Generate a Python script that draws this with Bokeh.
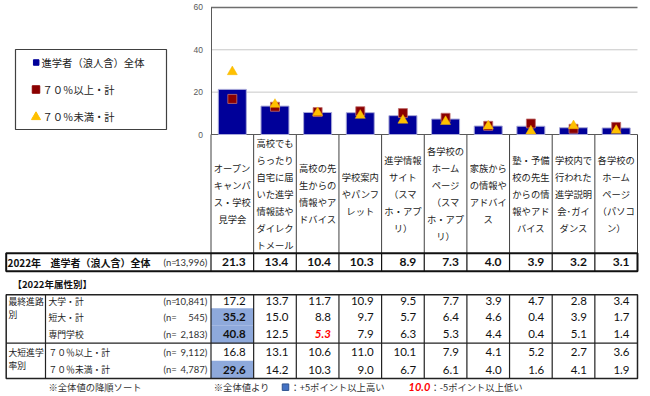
import numpy as np
from bokeh.plotting import figure
from bokeh.models import Range1d, LinearAxis, FixedTicker
from bokeh.core.properties import value
from bokeh.embed import file_html
from bokeh.resources import INLINE

# ---------------- data ----------------
categories = [
    "オープン\nキャンパ\nス・学校\n見学会",
    "高校でも\nらったり\n自宅に届\nいた進学\n情報誌や\nダイレク\nトメール",
    "高校の先\n生からの\n情報やア\nドバイス",
    "学校案内\nやパンフ\nレット",
    "進学情報\nサイト\n（スマ\nホ・アプ\nリ）",
    "各学校の\nホーム\nページ\n（スマ\nホ・アプ\nリ）",
    "家族から\nの情報や\nアドバイ\nス",
    "塾・予備\n校の先生\nからの情\n報やアド\nバイス",
    "学校内で\n行われた\n進学説明\n会･ガイ\nダンス",
    "各学校の\nホーム\nページ\n（パソコ\nン）",
]
overall = [21.3, 13.4, 10.4, 10.3, 8.9, 7.3, 4.0, 3.9, 3.2, 3.1]
univ = [17.2, 13.7, 11.7, 10.9, 9.5, 7.7, 3.9, 4.7, 2.8, 3.4]
junior = [35.2, 15.0, 8.8, 9.7, 5.7, 6.4, 4.6, 0.4, 3.9, 1.7]
vocational = [40.8, 12.5, 5.3, 7.9, 6.3, 5.3, 4.4, 0.4, 5.1, 1.4]
rate_hi = [16.8, 13.1, 10.6, 11.0, 10.1, 7.9, 4.1, 5.2, 2.7, 3.6]
rate_lo = [29.6, 14.2, 10.3, 9.0, 6.7, 6.1, 4.0, 1.6, 4.1, 1.9]

series_names = ["進学者（浪人含）全体", "７０％以上・計", "７０％未満・計"]
y_ticks = [0, 20, 40, 60]

main_year = "2022年"
main_label = "進学者（浪人含）全体"
main_n = "13,996"
section_title = "【2022年属性別】"
group_labels = ["最終進路\n別", "大短進学\n率別"]
group_sizes = [3, 2]
row_labels = ["大学・計", "短大・計", "専門学校", "７０％以上・計", "７０％未満・計"]
row_n = ["10,841", "545", "2,183", "9,112", "4,787"]
rows = [univ, junior, vocational, rate_hi, rate_lo]
note_sort = "※全体値の降順ソート"
note_base = "※全体値より"
note_high = "：+5ポイント以上高い"
note_low_sample = "10.0"
note_low = "：-5ポイント以上低い"
threshold = 5.0

# ---------------- layout (page pixels) ----------------
W, H = 650, 396
PX0, PY0 = 0, 0
COL_X0 = 210.5
COL_W = 42.65
ZERO_Y = 134.0
TOP_Y = 6.9
YMAX = y_ticks[-1]
JP = value("Noto Sans CJK JP")
NUM = value("Lato")

n = len(categories)
k = (ZERO_Y - TOP_Y) / YMAX
x_start = (PX0 - COL_X0) / COL_W
x_end = (PX0 + W - COL_X0) / COL_W
y_end = (ZERO_Y - PY0) / k
y_start = (ZERO_Y - (PY0 + H)) / k
RIGHT = COL_X0 + n * COL_W
LEFT = 5.7

p = figure(width=W, height=H, x_range=Range1d(x_start, x_end), y_range=Range1d(y_start, y_end),
           x_axis_type=None, y_axis_type=None, output_backend="svg", toolbar_location=None,
           min_border=0, outline_line_color=None, background_fill_color="white",
           border_fill_color="white")
p.extra_x_ranges = {"px": Range1d(PX0, PX0 + W)}
p.extra_y_ranges = {"px": Range1d(PY0 + H, PY0)}

xc = np.arange(n) + 0.5
bounds = np.arange(n + 1)

# gridlines
p.segment(x0=[0] * (len(y_ticks) - 2), x1=[n] * (len(y_ticks) - 2), y0=y_ticks[1:-1], y1=y_ticks[1:-1],
          line_color="#C8C8C8", line_width=1)
p.segment(x0=[0], x1=[n], y0=[y_ticks[-1]], y1=[y_ticks[-1]], line_color="#6E6E6E", line_width=1.5)

# y axis
yaxis = LinearAxis(fixed_location=0, bounds=(0, YMAX), ticker=FixedTicker(ticks=y_ticks),
                   axis_line_color="#595959", axis_line_width=1,
                   major_tick_in=0, major_tick_out=0, minor_tick_in=0, minor_tick_out=0,
                   major_label_text_font="Liberation Sans", major_label_text_font_size="8.5px",
                   major_label_text_color="#595959", major_label_standoff=8)
p.add_layout(yaxis, "left")

# category cell vertical lines & x axis line
p.segment(x0=bounds, x1=bounds, y0=[ZERO_Y] * (n + 1), y1=[252.7] * (n + 1), y_range_name="px",
          line_color="#404040", line_width=1)
p.segment(x0=[0], x1=[n], y0=[0], y1=[0], line_color="#595959", line_width=1)

# bars & markers
p.vbar(x=xc, top=overall, width=0.656, fill_color="#000099", line_color="#A8A8D8", line_width=1)
p.scatter(x=xc, y=rate_hi, marker="square", size=9, fill_color="#8B0000", line_color="#C07070", line_width=0.8)
p.scatter(x=xc, y=rate_lo, marker="triangle", size=10, fill_color="#FFC000", line_color="#F5B800", line_width=0.5)

# legend
p.quad(left=[15], right=[166], top=[49], bottom=[129], x_range_name="px", y_range_name="px",
       fill_color="white", line_color="#404040", line_width=1.2)
p.scatter(x=[35.7], y=[62], marker="square", size=5.5, fill_color="#000099", line_color="#000099",
          x_range_name="px", y_range_name="px")
p.scatter(x=[35.5], y=[89], marker="square", size=7.5, fill_color="#8B0000", line_color="#8B0000",
          x_range_name="px", y_range_name="px")
p.scatter(x=[35.5], y=[116.5], marker="triangle", size=9, fill_color="#FFC000", line_color="#FFC000",
          x_range_name="px", y_range_name="px")
p.text(x=[41, 42, 42], y=[62, 89, 116], text=series_names, x_range_name="px", y_range_name="px",
       text_font=JP, text_font_size="10.3px", text_color="#222222", text_baseline="middle", text_align="left")

# category labels
cx, cy, ct = [], [], []
for i, cat in enumerate(categories):
    lines = cat.split("\n")
    m = len(lines)
    for j, ln in enumerate(lines):
        cx.append(i + 0.5)
        cy.append(193 + (j - (m - 1) / 2) * 17)
        ct.append(ln)
p.text(x=cx, y=cy, text=ct, y_range_name="px", text_font=JP, text_font_size="9.3px",
       text_color="#222222", text_align="center", text_baseline="middle")

# main row
MR_T, MR_B = 252.7, 270.7
MR_Y = (MR_T + MR_B) / 2
p.quad(left=[LEFT], right=[RIGHT], top=[MR_T], bottom=[MR_B], x_range_name="px", y_range_name="px",
       fill_color=None, line_color="#111111", line_width=2)
p.segment(x0=bounds[:-1], x1=bounds[:-1], y0=[MR_T] * n, y1=[MR_B] * n, y_range_name="px",
          line_color="#111111", line_width=1.2)
p.text(x=[7, 50], y=[MR_Y, MR_Y], text=[main_year, main_label], x_range_name="px", y_range_name="px",
       text_font=JP, text_font_size="10px", text_font_style="bold", text_color="#111111",
       text_baseline="middle")
p.text(x=[163], y=[MR_Y], text=["(n="], x_range_name="px", y_range_name="px", text_font=NUM,
       text_font_size="9.5px", text_color="#333333", text_baseline="middle")
p.text(x=[206.7], y=[MR_Y], text=[main_n + ")"], x_range_name="px", y_range_name="px", text_font=NUM,
       text_font_size="9.5px", text_color="#333333", text_baseline="middle", text_align="right")
vx = bounds[1:] - 8 / COL_W
p.text(x=vx, y=[MR_Y] * n, text=[f"{v:.1f}" for v in overall], y_range_name="px", text_font=NUM,
       text_font_size="12px", text_font_style="bold", text_color="#111111", text_align="right",
       text_baseline="middle")

# section title
p.text(x=[12], y=[283.3], text=[section_title], x_range_name="px", y_range_name="px", text_font=JP,
       text_font_size="9.5px", text_font_style="bold", text_color="#111111", text_baseline="middle")

# table
row_edges = [294.3, 307.8, 325.2, 342.7, 360.3, 378.0]
row_y = [300.8, 316.5, 333.9, 351.5, 369.2]
T_TOP, T_BOT = row_edges[0], row_edges[-1]

# highlight cells (from data)
hl_l, hl_r, hl_t, hl_b = [], [], [], []
norm_x, norm_y, norm_t = [], [], []
bold_x, bold_y, bold_t = [], [], []
red_x, red_y, red_t = [], [], []
for r, vals in enumerate(rows):
    for i, v in enumerate(vals):
        d = v - overall[i]
        if d >= threshold:
            hl_l.append(i); hl_r.append(i + 1); hl_t.append(row_edges[r]); hl_b.append(row_edges[r + 1])
            bold_x.append(vx[i]); bold_y.append(row_y[r]); bold_t.append(f"{v:.1f}")
        elif d <= -threshold:
            red_x.append(vx[i]); red_y.append(row_y[r]); red_t.append(f"{v:.1f}")
        else:
            norm_x.append(vx[i]); norm_y.append(row_y[r]); norm_t.append(f"{v:.1f}")
p.quad(left=hl_l, right=hl_r, top=hl_t, bottom=hl_b, y_range_name="px", fill_color="#8EA9DB",
       line_color=None)

p.quad(left=[LEFT], right=[RIGHT], top=[T_TOP], bottom=[T_BOT], x_range_name="px", y_range_name="px",
       fill_color=None, line_color="#222222", line_width=1.5)
p.segment(x0=[45], x1=[45], y0=[T_TOP], y1=[T_BOT], x_range_name="px", y_range_name="px",
          line_color="#222222", line_width=1.2)
p.segment(x0=bounds[:-1], x1=bounds[:-1], y0=[T_TOP] * n, y1=[T_BOT] * n, y_range_name="px",
          line_color="#222222", line_width=1.2)
sep_y = row_edges[group_sizes[0]]
p.segment(x0=[LEFT], x1=[RIGHT], y0=[sep_y], y1=[sep_y], x_range_name="px", y_range_name="px",
          line_color="#222222", line_width=1.2)

# group labels
gx, gy, gt = [], [], []
start = 0
for g, lab in enumerate(group_labels):
    for j, ln in enumerate(lab.split("\n")):
        gx.append(8); gy.append(row_y[start] + j * 13.2); gt.append(ln)
    start += group_sizes[g]
p.text(x=gx, y=gy, text=gt, x_range_name="px", y_range_name="px", text_font=JP, text_font_size="8.8px",
       text_color="#222222", text_baseline="middle")
p.text(x=[48] * len(row_labels), y=row_y, text=row_labels, x_range_name="px", y_range_name="px",
       text_font=JP, text_font_size="8.8px", text_color="#222222", text_baseline="middle")
p.text(x=[163] * len(row_n), y=row_y, text=["(n="] * len(row_n), x_range_name="px", y_range_name="px",
       text_font=NUM, text_font_size="9.5px", text_color="#333333", text_baseline="middle")
p.text(x=[206.7] * len(row_n), y=row_y, text=[s + ")" for s in row_n], x_range_name="px",
       y_range_name="px", text_font=NUM, text_font_size="9.5px", text_color="#333333",
       text_baseline="middle", text_align="right")

p.text(x=norm_x, y=norm_y, text=norm_t, y_range_name="px", text_font=NUM, text_font_size="11.5px",
       text_color="#111111", text_align="right", text_baseline="middle")
p.text(x=bold_x, y=bold_y, text=bold_t, y_range_name="px", text_font=NUM, text_font_size="11.5px",
       text_font_style="bold", text_color="#111111", text_align="right", text_baseline="middle")
p.text(x=red_x, y=red_y, text=red_t, y_range_name="px", text_font=NUM, text_font_size="11.5px",
       text_font_style="bold italic", text_color="#FF0000", text_align="right", text_baseline="middle")

# footnotes
FN_Y = 386.7
p.text(x=[48, 213.3, 290, 430], y=[FN_Y] * 4, text=[note_sort, note_base, note_high, note_low],
       x_range_name="px", y_range_name="px", text_font=JP, text_font_size="9.3px",
       text_color="#333333", text_baseline="middle")
p.scatter(x=[285], y=[FN_Y], marker="square", size=6.5, fill_color="#4472C4", line_color="#2F528F",
          x_range_name="px", y_range_name="px")
p.text(x=[408], y=[FN_Y], text=[note_low_sample], x_range_name="px", y_range_name="px", text_font=NUM,
       text_font_size="11px", text_font_style="bold italic", text_color="#FF0000", text_baseline="middle")

open("out.html", "w").write(file_html(p, INLINE))
